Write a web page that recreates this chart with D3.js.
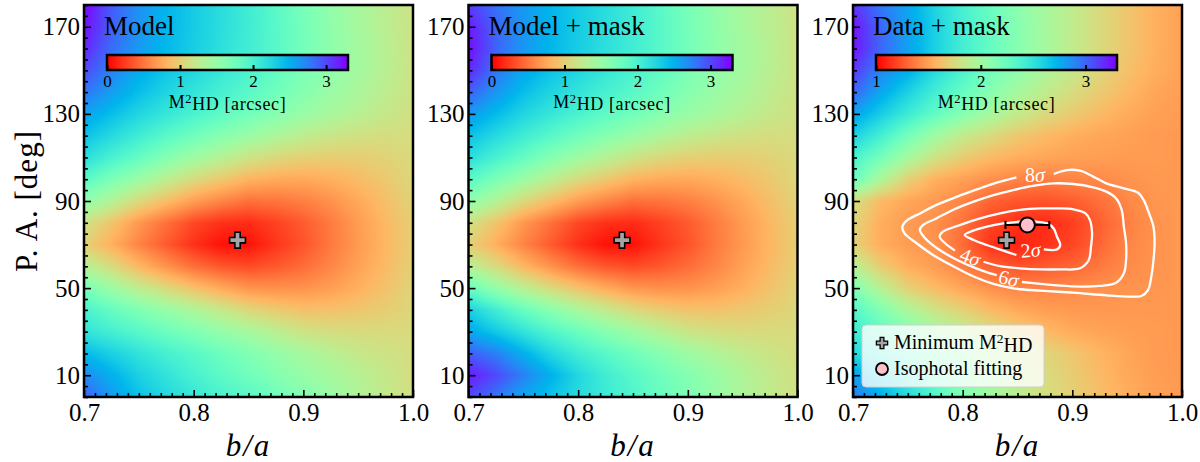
<!DOCTYPE html>
<html><head><meta charset="utf-8">
<script src="https://cdn.jsdelivr.net/npm/d3@7"></script>
<style>
body{margin:0;background:#fff}
svg{display:block}
text{font-family:"Liberation Serif","Times New Roman",serif;fill:#000}
</style>
</head><body>
<svg id="c" width="1200" height="462"></svg>
<script>
// ---------------- data ----------------
const baGrid = [0.700,0.725,0.750,0.775,0.800,0.825,0.850,0.875,0.900,0.925,0.950,0.975,1.000];
const paGrid = [0,10,20,30,40,50,60,70,80,90,100,110,120,130,140,150,160,170,180];

// M2HD [arcsec], rows = paGrid (0 -> 180), columns = baGrid
const modelValues = [
 [2.90,2.62,2.40,2.25,2.12,2.00,1.90,1.76,1.62,1.48,1.33,1.22,1.12],
 [2.70,2.50,2.30,2.15,2.00,1.87,1.75,1.62,1.50,1.40,1.30,1.20,1.10],
 [2.45,2.30,2.15,2.02,1.90,1.77,1.65,1.52,1.40,1.30,1.20,1.15,1.10],
 [2.15,2.03,1.90,1.77,1.65,1.52,1.40,1.27,1.15,1.10,1.08,1.08,1.08],
 [2.00,1.82,1.65,1.50,1.35,1.20,1.05,0.96,0.90,0.90,0.93,0.98,1.05],
 [1.70,1.47,1.25,1.07,0.90,0.76,0.65,0.63,0.64,0.70,0.80,0.91,1.03],
 [1.30,1.08,0.84,0.64,0.47,0.36,0.31,0.37,0.46,0.58,0.72,0.86,1.00],
 [1.00,0.80,0.57,0.38,0.20,0.07,0.07,0.22,0.35,0.52,0.68,0.84,0.98],
 [1.15,0.92,0.67,0.48,0.30,0.20,0.18,0.27,0.38,0.53,0.69,0.85,0.99],
 [1.55,1.32,1.07,0.88,0.70,0.58,0.48,0.50,0.55,0.64,0.76,0.89,1.02],
 [1.90,1.68,1.47,1.27,1.08,0.95,0.82,0.77,0.76,0.80,0.87,0.95,1.05],
 [2.20,2.00,1.82,1.62,1.45,1.30,1.16,1.06,1.00,0.98,0.98,1.02,1.07],
 [2.40,2.23,2.06,1.90,1.75,1.61,1.48,1.36,1.25,1.18,1.13,1.10,1.10],
 [2.58,2.42,2.26,2.12,1.99,1.86,1.74,1.61,1.49,1.39,1.29,1.20,1.12],
 [2.80,2.60,2.42,2.27,2.14,2.01,1.89,1.75,1.61,1.48,1.37,1.25,1.14],
 [3.00,2.74,2.53,2.38,2.25,2.12,1.99,1.84,1.68,1.54,1.41,1.28,1.15],
 [3.15,2.84,2.62,2.45,2.32,2.18,2.05,1.90,1.72,1.56,1.42,1.29,1.15],
 [3.25,2.90,2.65,2.47,2.33,2.20,2.06,1.90,1.72,1.55,1.40,1.27,1.15],
 [3.30,2.92,2.66,2.47,2.33,2.20,2.06,1.89,1.70,1.53,1.38,1.26,1.15]
];
const modelMaskValues = [
 [3.00,2.80,2.55,2.38,2.22,2.08,1.95,1.80,1.66,1.50,1.35,1.23,1.12],
 [3.20,3.00,2.75,2.50,2.25,2.05,1.90,1.75,1.62,1.48,1.34,1.22,1.11],
 [2.90,2.75,2.50,2.25,2.05,1.90,1.75,1.60,1.46,1.34,1.24,1.16,1.10],
 [2.55,2.35,2.15,1.95,1.78,1.60,1.45,1.30,1.17,1.11,1.08,1.08,1.08],
 [2.30,2.05,1.80,1.58,1.38,1.22,1.07,0.97,0.91,0.91,0.94,0.99,1.05],
 [1.80,1.52,1.28,1.08,0.91,0.77,0.66,0.63,0.64,0.70,0.80,0.91,1.03],
 [1.30,1.08,0.84,0.64,0.47,0.36,0.31,0.37,0.46,0.58,0.72,0.86,1.00],
 [1.00,0.80,0.57,0.38,0.20,0.07,0.07,0.22,0.35,0.52,0.68,0.84,0.98],
 [1.15,0.92,0.67,0.48,0.30,0.20,0.18,0.27,0.38,0.53,0.69,0.85,0.99],
 [1.55,1.32,1.07,0.88,0.70,0.58,0.48,0.50,0.55,0.64,0.76,0.89,1.02],
 [1.90,1.68,1.47,1.27,1.08,0.95,0.82,0.77,0.76,0.80,0.87,0.95,1.05],
 [2.20,2.00,1.82,1.62,1.45,1.30,1.16,1.06,1.00,0.98,0.98,1.02,1.07],
 [2.40,2.23,2.06,1.90,1.75,1.61,1.48,1.36,1.25,1.18,1.13,1.10,1.10],
 [2.62,2.44,2.26,2.12,1.99,1.86,1.74,1.61,1.49,1.39,1.29,1.20,1.12],
 [2.90,2.64,2.42,2.27,2.14,2.01,1.89,1.75,1.61,1.48,1.37,1.25,1.14],
 [3.15,2.80,2.55,2.39,2.25,2.12,1.99,1.84,1.68,1.54,1.41,1.28,1.15],
 [3.25,2.88,2.64,2.46,2.32,2.18,2.05,1.90,1.72,1.56,1.42,1.29,1.15],
 [3.20,2.88,2.64,2.47,2.33,2.20,2.06,1.90,1.72,1.55,1.40,1.27,1.15],
 [3.05,2.82,2.62,2.46,2.33,2.20,2.06,1.89,1.70,1.53,1.38,1.26,1.15]
];
const dataMaskValues = [
 [2.95,2.75,2.55,2.35,2.15,2.00,1.88,1.78,1.70,1.62,1.55,1.50,1.48],
 [2.80,2.62,2.45,2.28,2.12,1.98,1.86,1.76,1.68,1.60,1.53,1.49,1.47],
 [2.55,2.42,2.30,2.18,2.06,1.93,1.82,1.73,1.65,1.58,1.52,1.48,1.47],
 [2.45,2.30,2.15,2.00,1.88,1.77,1.68,1.60,1.54,1.51,1.49,1.48,1.47],
 [2.35,2.15,1.95,1.80,1.70,1.60,1.53,1.49,1.47,1.47,1.47,1.47,1.47],
 [2.15,1.90,1.70,1.60,1.52,1.44,1.40,1.40,1.42,1.44,1.45,1.46,1.47],
 [1.90,1.68,1.55,1.48,1.38,1.28,1.24,1.26,1.30,1.36,1.42,1.45,1.47],
 [1.70,1.55,1.48,1.45,1.32,1.15,1.10,1.14,1.20,1.30,1.40,1.45,1.47],
 [1.72,1.55,1.48,1.44,1.34,1.20,1.13,1.12,1.18,1.28,1.38,1.45,1.47],
 [1.78,1.60,1.52,1.47,1.40,1.30,1.25,1.24,1.27,1.33,1.41,1.46,1.47],
 [2.25,1.95,1.70,1.56,1.50,1.44,1.40,1.38,1.40,1.42,1.45,1.47,1.47],
 [2.40,2.20,1.98,1.80,1.68,1.60,1.55,1.52,1.50,1.49,1.48,1.48,1.47],
 [2.60,2.42,2.20,2.00,1.85,1.75,1.66,1.60,1.55,1.52,1.50,1.48,1.47],
 [2.80,2.62,2.45,2.28,2.12,1.98,1.85,1.75,1.67,1.60,1.54,1.50,1.48],
 [3.00,2.78,2.60,2.42,2.26,2.12,1.98,1.86,1.76,1.67,1.59,1.52,1.49],
 [3.15,2.90,2.75,2.55,2.38,2.22,2.08,1.95,1.84,1.73,1.63,1.55,1.50],
 [3.25,3.00,2.80,2.60,2.42,2.27,2.12,1.98,1.86,1.75,1.65,1.56,1.50],
 [3.25,3.00,2.80,2.60,2.42,2.27,2.12,1.98,1.86,1.75,1.65,1.56,1.50],
 [3.15,2.95,2.78,2.58,2.40,2.25,2.10,1.97,1.86,1.75,1.65,1.56,1.50]
];

const panelTitles = ["Model", "Model + mask", "Data + mask"];
const colorDomains = [[0, 3.3], [0, 3.3], [1, 3.3]];
const colorTicks = [[0, 1, 2, 3], [0, 1, 2, 3], [1, 2, 3]];
const xTicks = [0.7, 0.8, 0.9, 1.0];
const yTicks = [10, 50, 90, 130, 170];
const minM2HD = [0.84, 72];           // [b/a, PA]
const isoFit = [0.859, 79];           // [b/a, PA]
const isoFitErr = 0.02;               // b/a error
const legendLabels = ["Minimum M", "Isophotal fitting"];

// sigma contours on the Data+mask panel: [b/a, PA] points (open at the label gap)
const sigma8 = [[0.883,102.4],[0.895,104.2],[0.907,103.9],[0.919,101.2],[0.931,98.1],[0.947,95.8],[0.960,93.8],[0.965,90.5],[0.970,84.3],[0.974,78.2],[0.975,70.6],[0.974,62.9],[0.972,55.2],[0.969,49.1],[0.963,46.4],[0.953,46.1],[0.931,46.7],[0.901,47.9],[0.871,48.8],[0.846,49.9],[0.828,51.9],[0.810,55.3],[0.791,60.1],[0.773,65.2],[0.758,70.6],[0.747,75.1],[0.745,78.2],[0.749,81.0],[0.761,84.3],[0.776,88.2],[0.795,92.0],[0.813,95.3],[0.831,98.4],[0.849,100.9]];
const sigma6 = [[0.854,52.8],[0.871,51.9],[0.889,51.1],[0.907,50.7],[0.925,51.0],[0.940,52.5],[0.947,56.8],[0.949,62.9],[0.949,70.6],[0.947,78.2],[0.945,85.9],[0.940,91.2],[0.931,94.3],[0.919,96.3],[0.901,97.8],[0.883,98.1],[0.864,96.9],[0.846,95.0],[0.828,92.7],[0.810,89.7],[0.791,85.9],[0.776,82.0],[0.764,79.0],[0.761,76.7],[0.766,72.8],[0.779,67.5],[0.795,62.9],[0.810,59.5],[0.825,56.8],[0.831,56.0]];
const sigma4 = [[0.819,62.1],[0.834,60.1],[0.852,59.1],[0.871,58.6],[0.889,58.6],[0.907,59.1],[0.915,62.9],[0.917,69.0],[0.918,75.1],[0.916,81.3],[0.912,84.3],[0.901,86.2],[0.886,86.6],[0.871,86.6],[0.852,85.9],[0.834,84.3],[0.816,82.0],[0.798,79.0],[0.782,75.9],[0.779,73.6],[0.784,70.6],[0.793,67.2]];
const sigma2 = [[0.874,67.8],[0.886,67.8],[0.889,69.8],[0.886,73.6],[0.883,77.4],[0.877,79.7],[0.867,80.5],[0.852,80.5],[0.837,79.7],[0.822,78.2],[0.807,75.9],[0.802,74.4],[0.810,72.1],[0.822,69.8],[0.837,67.2],[0.849,65.2]];
const sigmaLabels = ["8σ", "6σ", "4σ", "2σ"];
const sigmaLabelPos = [[0.866,101.9,0],[0.842,54.5,15],[0.807,64.4,21],[0.862,67.5,-5]];

// ---------------- layout ----------------
const W = 329, H = 392, TOP = 5;
const panelLeft = [84, 468.5, 853];
const svg = d3.select("#c");
const x = d3.scaleLinear().domain([0.7, 1.0]).range([0, W]);
const y = d3.scaleLinear().domain([0, 180]).range([H, 0]);

function rainbow(t) { // matplotlib 'rainbow'
  const r = Math.min(1, Math.abs(2 * t - 0.5));
  const g = Math.sin(Math.PI * t);
  const b = Math.cos(Math.PI * t / 2);
  return d3.rgb(r * 255, g * 255, Math.max(0, b) * 255);
}
const rainbowR = t => rainbow(1 - t);

const gi = d3.scaleLinear().domain([baGrid[0], baGrid[baGrid.length - 1]]).range([0, baGrid.length - 1]).clamp(true);
const gj = d3.scaleLinear().domain([paGrid[0], paGrid[paGrid.length - 1]]).range([0, paGrid.length - 1]).clamp(true);
function sampleGrid(grid, q, pa) {
  const fi = gi(q), fj = gj(pa);
  const i0 = Math.min(Math.floor(fi), baGrid.length - 2), j0 = Math.min(Math.floor(fj), paGrid.length - 2);
  const tx = fi - i0, ty = fj - j0;
  const a = grid[j0][i0], b = grid[j0][i0 + 1], c = grid[j0 + 1][i0], d = grid[j0 + 1][i0 + 1];
  return (a * (1 - tx) + b * tx) * (1 - ty) + (c * (1 - tx) + d * tx) * ty;
}

const defs = svg.append("defs");
const grad = defs.append("linearGradient").attr("id", "cbgrad");
d3.range(0, 1.0001, 0.02).forEach(t => grad.append("stop").attr("offset", t).attr("stop-color", rainbowR(t).formatHex()));
defs.append("clipPath").attr("id", "plotclip").append("rect").attr("width", W).attr("height", H);

const grids = [modelValues, modelMaskValues, dataMaskValues];
const SERIF = "'Liberation Serif', serif";

grids.forEach((grid, p) => {
  const color = d3.scaleSequential(rainbowR).domain(colorDomains[p]).clamp(true);
  const g = svg.append("g").attr("transform", `translate(${panelLeft[p]},${TOP})`);

  const cv = document.createElement("canvas");
  cv.width = W; cv.height = H;
  const ctx = cv.getContext("2d");
  const img = ctx.createImageData(W, H);
  for (let j = 0; j < H; j++) {
    const pa = y.invert(j + 0.5);
    for (let i = 0; i < W; i++) {
      const q = x.invert(i + 0.5);
      const c = color(sampleGrid(grid, q, pa));
      const k = (j * W + i) * 4;
      img.data[k] = c.r; img.data[k + 1] = c.g; img.data[k + 2] = c.b; img.data[k + 3] = 255;
    }
  }
  ctx.putImageData(img, 0, 0);
  g.append("image").attr("width", W).attr("height", H).attr("href", cv.toDataURL());

  const plot = g.append("g").attr("clip-path", "url(#plotclip)");

  if (p === 2) {
    const line = d3.line().x(d => x(d[0])).y(d => y(d[1])).curve(d3.curveCatmullRom.alpha(0.5));
    [sigma8, sigma6, sigma4, sigma2].forEach(pts => {
      plot.append("path").attr("d", line(pts)).attr("fill", "none")
        .attr("stroke", "#fff").attr("stroke-width", 2.3).attr("stroke-linejoin", "round");
    });
    sigmaLabels.forEach((lab, k) => {
      const [lq, lp, rot] = sigmaLabelPos[k];
      const t = plot.append("text").attr("transform", `translate(${x(lq)},${y(lp)}) rotate(${rot})`)
        .attr("text-anchor", "middle").attr("dy", "0.35em")
        .style("font-size", "20px").style("fill", "#fff");
      t.append("tspan").text(lab.slice(0, -1));
      t.append("tspan").style("font-style", "italic").text(lab.slice(-1));
    });
    const ey = y(isoFit[1]);
    plot.append("line").attr("x1", x(isoFit[0] - isoFitErr)).attr("x2", x(isoFit[0] + isoFitErr))
      .attr("y1", ey).attr("y2", ey).attr("stroke", "#000").attr("stroke-width", 2);
    [isoFit[0] - isoFitErr, isoFit[0] + isoFitErr].forEach(v => {
      plot.append("line").attr("x1", x(v)).attr("x2", x(v)).attr("y1", ey - 4).attr("y2", ey + 4)
        .attr("stroke", "#000").attr("stroke-width", 2);
    });
  }

  plot.append("path").attr("d", d3.symbol(d3.symbolCross, 140)())
    .attr("transform", `translate(${x(minM2HD[0])},${y(minM2HD[1])})`)
    .attr("fill", "#a4a4a4").attr("stroke", "#000").attr("stroke-width", 1.6);
  if (p === 2) {
    plot.append("circle").attr("cx", x(isoFit[0])).attr("cy", y(isoFit[1])).attr("r", 7.5)
      .attr("fill", "#ffc0cb").attr("stroke", "#000").attr("stroke-width", 2);
  }

  g.append("text").attr("x", 20).attr("y", 30).style("font-size", "27px").text(panelTitles[p]);

  // colorbar
  const cbX = 23, cbY = 50, cbW = 241, cbH = 15;
  const cbScale = d3.scaleLinear().domain(colorDomains[p]).range([cbX, cbX + cbW]);
  g.append("rect").attr("x", cbX).attr("y", cbY).attr("width", cbW).attr("height", cbH).attr("fill", "url(#cbgrad)");
  const cbAxis = g.append("g").attr("transform", `translate(0,${cbY + cbH})`)
    .call(d3.axisBottom(cbScale).tickValues(colorTicks[p]).tickFormat(d3.format("d")).tickSize(-5).tickPadding(5));
  cbAxis.select(".domain").remove();
  cbAxis.selectAll("line").attr("stroke", "#000").attr("stroke-width", 2);
  cbAxis.selectAll("text").style("font-size", "17px").style("font-family", SERIF);
  g.append("rect").attr("x", cbX).attr("y", cbY).attr("width", cbW).attr("height", cbH)
    .attr("fill", "none").attr("stroke", "#000").attr("stroke-width", 2.5);
  const cbl = g.append("text").attr("x", cbX + cbW / 2).attr("y", 103).attr("text-anchor", "middle")
    .style("font-size", "18px").style("letter-spacing", "0.6px");
  cbl.append("tspan").text("M");
  cbl.append("tspan").attr("dy", "-0.42em").style("font-size", "12.5px").text("2");
  cbl.append("tspan").attr("dy", "0.42em").text("HD [arcsec]");

  if (p === 2) {
    const lg = g.append("g").attr("transform", "translate(9,320)");
    lg.append("rect").attr("width", 182).attr("height", 62).attr("rx", 4)
      .attr("fill", "#fff").attr("fill-opacity", 0.8).attr("stroke", "#d0d0d0").attr("stroke-width", 1);
    lg.append("path").attr("d", d3.symbol(d3.symbolCross, 70)()).attr("transform", "translate(20,18)")
      .attr("fill", "#a4a4a4").attr("stroke", "#000").attr("stroke-width", 1.3);
    lg.append("circle").attr("cx", 20).attr("cy", 44).attr("r", 6)
      .attr("fill", "#ffc0cb").attr("stroke", "#000").attr("stroke-width", 1.8);
    const t1 = lg.append("text").attr("x", 32).attr("y", 24).style("font-size", "20px");
    t1.append("tspan").text(legendLabels[0]);
    t1.append("tspan").attr("dy", "-0.42em").style("font-size", "13.5px").text("2");
    t1.append("tspan").attr("dy", "0.42em").text("HD");
    lg.append("text").attr("x", 32).attr("y", 50).style("font-size", "20px").text(legendLabels[1]);
  }

  // axes (ticks inward)
  const yMinor = d3.range(0, 181, 5).filter(v => !yTicks.includes(v));
  const xMinor = d3.range(70, 101).map(v => v / 100).filter(v => !xTicks.some(t => Math.abs(t - v) < 1e-9));
  const ax1 = g.append("g").call(d3.axisLeft(y).tickValues(yMinor).tickSize(-4).tickFormat(""));
  const ax2 = g.append("g").call(d3.axisLeft(y).tickValues(yTicks).tickSize(-7).tickPadding(4).tickFormat(d3.format("d")));
  const ax3 = g.append("g").attr("transform", `translate(0,${H})`).call(d3.axisBottom(x).tickValues(xMinor).tickSize(-4).tickFormat(""));
  const ax4 = g.append("g").attr("transform", `translate(0,${H})`).call(d3.axisBottom(x).tickValues(xTicks).tickSize(-7).tickPadding(6).tickFormat(d3.format(".1f")));
  [ax1, ax2, ax3, ax4].forEach(a => {
    a.select(".domain").remove();
    a.selectAll("line").attr("stroke", "#000").attr("stroke-width", 1.6);
    a.selectAll("text").style("font-size", "25px").style("font-family", SERIF);
  });

  g.append("rect").attr("width", W).attr("height", H).attr("fill", "none").attr("stroke", "#000").attr("stroke-width", 2.5);

  g.append("text").attr("x", W / 2).attr("y", 451).attr("text-anchor", "middle")
    .style("font-size", "31px").style("font-style", "italic").style("letter-spacing", "2px").text("b/a");
});

svg.append("text").attr("transform", `translate(37,${TOP + H / 2}) rotate(-90)`).attr("text-anchor", "middle")
  .style("font-size", "31px").style("letter-spacing", "1px").text("P. A. [deg]");
</script>
</body></html>
